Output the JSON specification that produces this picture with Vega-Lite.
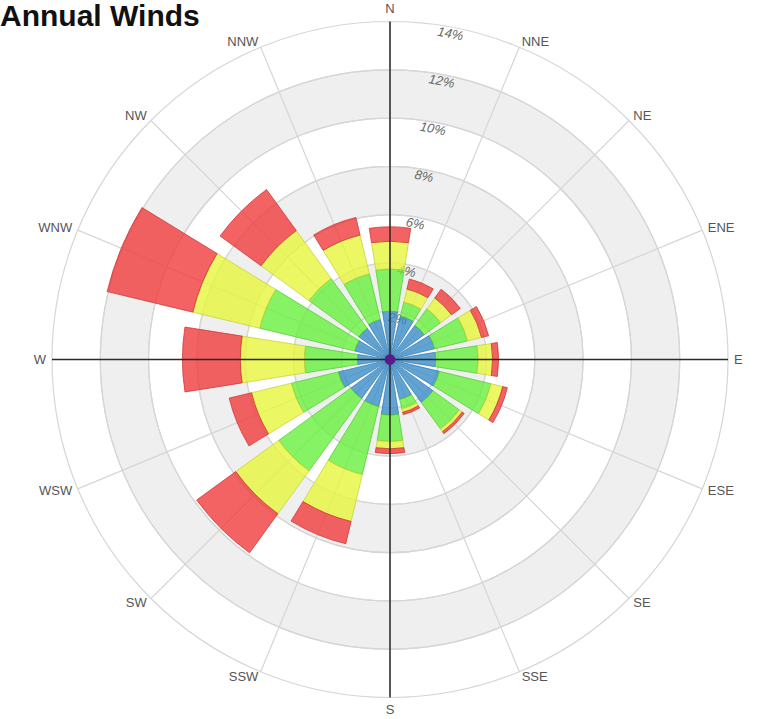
{
  "$schema": "https://vega.github.io/schema/vega-lite/v6.json",
  "width": 742,
  "height": 719,
  "autosize": "none",
  "padding": {"left": 19, "top": 0, "right": 0, "bottom": 0},
  "background": "white",
  "config": {"view": {"stroke": null}},
  "title": {"text": "Annual Winds", "anchor": "start", "frame": "group", "orient": "top", "offset": -32, "dx": -19, "fontSize": 30, "font": "Liberation Sans", "fontWeight": "bold", "color": "#111111"},
  "datasets": {
    "winds": [
      {"dir": "N", "deg": 0, "bin": 1, "v": 2.0}, {"dir": "N", "deg": 0, "bin": 2, "v": 1.75}, {"dir": "N", "deg": 0, "bin": 3, "v": 1.15}, {"dir": "N", "deg": 0, "bin": 4, "v": 0.6},
      {"dir": "NNE", "deg": 22.5, "bin": 1, "v": 1.85}, {"dir": "NNE", "deg": 22.5, "bin": 2, "v": 0.6}, {"dir": "NNE", "deg": 22.5, "bin": 3, "v": 0.55}, {"dir": "NNE", "deg": 22.5, "bin": 4, "v": 0.43},
      {"dir": "NE", "deg": 45, "bin": 1, "v": 1.75}, {"dir": "NE", "deg": 45, "bin": 2, "v": 0.85}, {"dir": "NE", "deg": 45, "bin": 3, "v": 0.55}, {"dir": "NE", "deg": 45, "bin": 4, "v": 0.45},
      {"dir": "ENE", "deg": 67.5, "bin": 1, "v": 1.9}, {"dir": "ENE", "deg": 67.5, "bin": 2, "v": 1.4}, {"dir": "ENE", "deg": 67.5, "bin": 3, "v": 0.6}, {"dir": "ENE", "deg": 67.5, "bin": 4, "v": 0.3},
      {"dir": "E", "deg": 90, "bin": 1, "v": 1.9}, {"dir": "E", "deg": 90, "bin": 2, "v": 1.75}, {"dir": "E", "deg": 90, "bin": 3, "v": 0.6}, {"dir": "E", "deg": 90, "bin": 4, "v": 0.25},
      {"dir": "ESE", "deg": 112.5, "bin": 1, "v": 2.1}, {"dir": "ESE", "deg": 112.5, "bin": 2, "v": 2.2}, {"dir": "ESE", "deg": 112.5, "bin": 3, "v": 0.5}, {"dir": "ESE", "deg": 112.5, "bin": 4, "v": 0.2},
      {"dir": "SE", "deg": 135, "bin": 1, "v": 2.2}, {"dir": "SE", "deg": 135, "bin": 2, "v": 1.35}, {"dir": "SE", "deg": 135, "bin": 3, "v": 0.15}, {"dir": "SE", "deg": 135, "bin": 4, "v": 0.1},
      {"dir": "SSE", "deg": 157.5, "bin": 1, "v": 1.7}, {"dir": "SSE", "deg": 157.5, "bin": 2, "v": 0.4}, {"dir": "SSE", "deg": 157.5, "bin": 3, "v": 0.15}, {"dir": "SSE", "deg": 157.5, "bin": 4, "v": 0.1},
      {"dir": "S", "deg": 180, "bin": 1, "v": 2.3}, {"dir": "S", "deg": 180, "bin": 2, "v": 1.1}, {"dir": "S", "deg": 180, "bin": 3, "v": 0.3}, {"dir": "S", "deg": 180, "bin": 4, "v": 0.2},
      {"dir": "SSW", "deg": 202.5, "bin": 1, "v": 2.0}, {"dir": "SSW", "deg": 202.5, "bin": 2, "v": 2.9}, {"dir": "SSW", "deg": 202.5, "bin": 3, "v": 2.0}, {"dir": "SSW", "deg": 202.5, "bin": 4, "v": 0.95},
      {"dir": "SW", "deg": 225, "bin": 1, "v": 2.0}, {"dir": "SW", "deg": 225, "bin": 2, "v": 3.7}, {"dir": "SW", "deg": 225, "bin": 3, "v": 2.2}, {"dir": "SW", "deg": 225, "bin": 4, "v": 2.0},
      {"dir": "WSW", "deg": 247.5, "bin": 1, "v": 2.2}, {"dir": "WSW", "deg": 247.5, "bin": 2, "v": 2.0}, {"dir": "WSW", "deg": 247.5, "bin": 3, "v": 1.7}, {"dir": "WSW", "deg": 247.5, "bin": 4, "v": 0.95},
      {"dir": "W", "deg": 270, "bin": 1, "v": 1.35}, {"dir": "W", "deg": 270, "bin": 2, "v": 2.2}, {"dir": "W", "deg": 270, "bin": 3, "v": 2.65}, {"dir": "W", "deg": 270, "bin": 4, "v": 2.4},
      {"dir": "WNW", "deg": 292.5, "bin": 1, "v": 1.5}, {"dir": "WNW", "deg": 292.5, "bin": 2, "v": 4.05}, {"dir": "WNW", "deg": 292.5, "bin": 3, "v": 2.85}, {"dir": "WNW", "deg": 292.5, "bin": 4, "v": 3.65},
      {"dir": "NW", "deg": 315, "bin": 1, "v": 1.6}, {"dir": "NW", "deg": 315, "bin": 2, "v": 2.55}, {"dir": "NW", "deg": 315, "bin": 3, "v": 2.45}, {"dir": "NW", "deg": 315, "bin": 4, "v": 2.1},
      {"dir": "NNW", "deg": 337.5, "bin": 1, "v": 1.7}, {"dir": "NNW", "deg": 337.5, "bin": 2, "v": 1.95}, {"dir": "NNW", "deg": 337.5, "bin": 3, "v": 1.65}, {"dir": "NNW", "deg": 337.5, "bin": 4, "v": 0.75}
    ],
    "rings": [
      {"r": 2, "label": "2%"}, {"r": 4, "label": "4%"}, {"r": 6, "label": "6%"}, {"r": 8, "label": "8%"},
      {"r": 10, "label": "10%"}, {"r": 12, "label": "12%"}, {"r": 14, "label": "14%"}
    ],
    "annuli": [{"lo": 0, "hi": 2}, {"lo": 2, "hi": 4}, {"lo": 4, "hi": 6}, {"lo": 6, "hi": 8}, {"lo": 8, "hi": 10}, {"lo": 10, "hi": 12}, {"lo": 12, "hi": 14}],
    "bands": [{"lo": 2, "hi": 4}, {"lo": 6, "hi": 8}, {"lo": 10, "hi": 12}],
    "dirs": [
      {"dir": "N", "deg": 0}, {"dir": "NNE", "deg": 22.5}, {"dir": "NE", "deg": 45}, {"dir": "ENE", "deg": 67.5},
      {"dir": "E", "deg": 90}, {"dir": "ESE", "deg": 112.5}, {"dir": "SE", "deg": 135}, {"dir": "SSE", "deg": 157.5},
      {"dir": "S", "deg": 180}, {"dir": "SSW", "deg": 202.5}, {"dir": "SW", "deg": 225}, {"dir": "WSW", "deg": 247.5},
      {"dir": "W", "deg": 270}, {"dir": "WNW", "deg": 292.5}, {"dir": "NW", "deg": 315}, {"dir": "NNW", "deg": 337.5}
    ],
    "axes": [{"deg": 0}, {"deg": 90}, {"deg": 180}, {"deg": 270}],
    "calm": [{"r": 0.22}]
  },
  "layer": [
    {
      "data": {"name": "bands"},
      "mark": {"type": "arc", "fill": "#efefef", "stroke": null},
      "encoding": {
        "theta": {"datum": 0, "type": "quantitative", "scale": {"type": "linear", "domain": [0, 360], "range": [0, 6.283185307], "nice": false}},
        "theta2": {"datum": 360},
        "radius": {"field": "hi", "type": "quantitative", "scale": {"type": "linear", "domain": [0, 14], "range": [0, 338], "zero": true, "nice": false}},
        "radius2": {"field": "lo"}
      }
    },
    {
      "data": {"name": "annuli"},
      "mark": {"type": "arc", "filled": false, "stroke": "#d6d6d6", "strokeWidth": 1.2},
      "encoding": {
        "theta": {"datum": 0, "type": "quantitative"},
        "theta2": {"datum": 360},
        "radius": {"field": "hi", "type": "quantitative"},
        "radius2": {"field": "lo"}
      }
    },
    {
      "data": {"name": "dirs"},
      "mark": {"type": "arc", "filled": false, "stroke": "#d6d6d6", "strokeWidth": 1.2},
      "encoding": {
        "theta": {"field": "deg", "type": "quantitative", "stack": null},
        "theta2": {"field": "deg"},
        "radius": {"datum": 14, "type": "quantitative"},
        "radius2": {"datum": 0}
      }
    },
    {
      "data": {"name": "rings"},
      "mark": {"type": "text", "fontSize": 13, "fontStyle": "italic", "font": "Liberation Sans", "color": "#666666", "angle": 11, "radiusOffset": -7, "baseline": "middle", "align": "center"},
      "encoding": {
        "theta": {"datum": 10.5, "type": "quantitative"},
        "radius": {"field": "r", "type": "quantitative"},
        "text": {"field": "label"}
      }
    },
    {
      "data": {"name": "winds"},
      "transform": [{"stack": "v", "groupby": ["dir"], "sort": [{"field": "bin", "order": "ascending"}], "as": ["r0", "r1"]}],
      "mark": {"type": "arc", "thetaOffset": -0.157, "theta2Offset": 0.157, "fillOpacity": 0.8, "strokeWidth": 0.8, "strokeOpacity": 0.9},
      "encoding": {
        "theta": {"field": "deg", "type": "quantitative", "stack": null},
        "theta2": {"field": "deg"},
        "radius": {"field": "r1", "type": "quantitative"},
        "radius2": {"field": "r0"},
        "fill": {"field": "bin", "type": "nominal", "scale": {"domain": [1, 2, 3, 4], "range": ["#3a8cc8", "#66f03c", "#e6f53c", "#f03c3c"]}, "legend": null},
        "stroke": {"field": "bin", "type": "nominal", "scale": {"domain": [1, 2, 3, 4], "range": ["#2f78b0", "#4fc832", "#c4cf30", "#cc3030"]}, "legend": null}
      }
    },
    {
      "data": {"name": "axes"},
      "mark": {"type": "arc", "filled": false, "stroke": "#2a2a2a", "strokeWidth": 1.5},
      "encoding": {
        "theta": {"field": "deg", "type": "quantitative", "stack": null},
        "theta2": {"field": "deg"},
        "radius": {"datum": 14, "type": "quantitative"},
        "radius2": {"datum": 0}
      }
    },
    {
      "data": {"name": "calm"},
      "mark": {"type": "arc", "fill": "#5a1a8c", "stroke": null},
      "encoding": {
        "theta": {"datum": 0, "type": "quantitative"},
        "theta2": {"datum": 360},
        "radius": {"field": "r", "type": "quantitative"}
      }
    },
    {
      "data": {"name": "dirs"},
      "mark": {
        "type": "text", "fontSize": 13, "font": "Liberation Sans", "color": "#555555", "radiusOffset": 6,
        "align": {"expr": "datum.deg == 0 || datum.deg == 180 ? 'center' : (datum.deg < 180 ? 'left' : 'right')"},
        "baseline": {"expr": "datum.deg == 0 ? 'bottom' : (datum.deg == 180 ? 'top' : 'middle')"}
      },
      "encoding": {
        "theta": {"field": "deg", "type": "quantitative", "stack": null},
        "radius": {"datum": 14, "type": "quantitative"},
        "text": {"field": "dir"}
      }
    }
  ]
}
